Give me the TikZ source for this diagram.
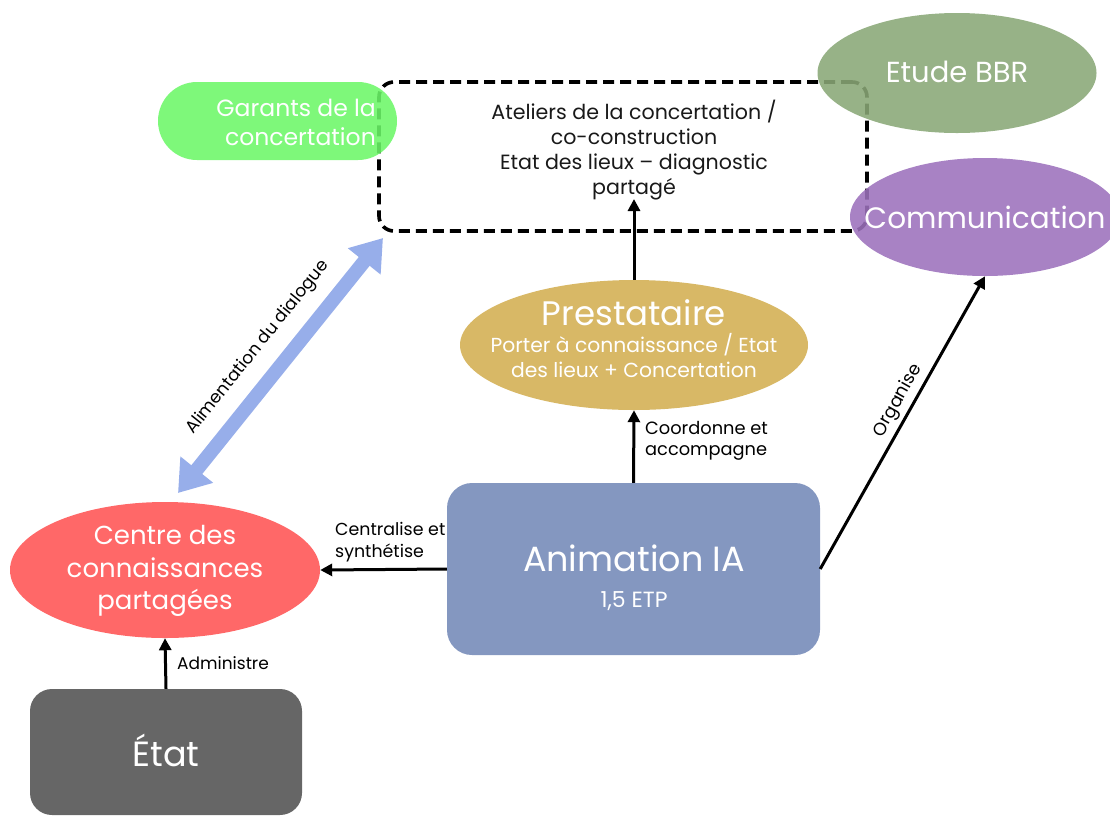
\documentclass[tikz,border=0pt]{standalone}
\usepackage{fontspec}
\setmainfont{Poppins}
\usetikzlibrary{arrows.meta,shapes.geometric}
\definecolor{cgar}{HTML}{6CF768}
\definecolor{cbbr}{HTML}{89A776}
\definecolor{ccom}{HTML}{9C71BC}
\definecolor{cpre}{HTML}{D8B866}
\definecolor{cani}{HTML}{8497C0}
\definecolor{ccen}{HTML}{FF6868}
\definecolor{ceta}{HTML}{666666}
\definecolor{cblu}{HTML}{97AEEA}
\newcommand\fsz[2]{\fontsize{#1}{#2}\selectfont}
\begin{document}
\begin{tikzpicture}[x=1pt,y=-1pt,
  wtxt/.style={text=white,inner sep=0pt,align=center},
  btxt/.style={text=black,inner sep=0pt,align=left},
  blk/.style={line width=3pt,-{Triangle[length=12pt,width=12pt]}},
  oval/.style={ellipse,inner sep=0pt,draw=none},
  rbox/.style={rectangle,inner sep=0pt,draw=none}]
\useasboundingbox (0,0) rectangle (1110,815);

% dashed box
\node[rbox,draw=black,line width=3.6pt,dash pattern=on 11pt off 6pt,rounded corners=15pt,
  minimum width=488pt,minimum height=149pt] (box) at (623,156.5) {};
\node[btxt,align=center,text=black!90,font=\fsz{20.6}{25}] (atel) at (634,150)
  {Ateliers de la concertation /\\co-construction\\Etat des lieux -- diagnostic\\partagé};
\coordinate (boxin) at (634,199);

% garants
\node[rbox,fill=cgar,fill opacity=0.88,rounded corners=39pt,minimum width=239pt,minimum height=78pt] (gar) at (277.5,121) {};
\node[wtxt,align=right,anchor=east,font=\fsz{23.5}{29}] (gart) at (376,122) {Garants de la\\concertation};

% Etude BBR
\node[oval,fill=cbbr,fill opacity=0.88,minimum width=279pt,minimum height=120pt] (bbr) at (957,73) {};
\node[wtxt,font=\fsz{29}{33}] (bbrt) at (957,72) {Etude BBR};

% Communication
\node[oval,fill=ccom,fill opacity=0.88,minimum width=270pt,minimum height=118pt] (comm) at (985,217) {};
\node[wtxt,font=\fsz{29.5}{34}] (commt) at (985,217) {Communication};

% Prestataire
\node[oval,fill=cpre,minimum width=348pt,minimum height=130pt] (prest) at (634,345) {};
\node[wtxt,font=\fsz{34}{40}] (prestt) at (634,313) {Prestataire};
\node[wtxt,font=\fsz{20.3}{25}] (prests) at (634,356) {Porter à connaissance / Etat\\des lieux + Concertation};

% Animation IA
\node[rbox,fill=cani,rounded corners=25pt,minimum width=373pt,minimum height=172pt] (anim) at (633.5,569) {};
\node[wtxt,font=\fsz{35}{40}] (animt) at (634,558) {Animation IA};
\node[wtxt,font=\fsz{22}{26}] (anims) at (634,601) {1,5 ETP};

% Centre
\node[oval,fill=ccen,minimum width=310pt,minimum height=136pt] (centre) at (165,570) {};
\node[wtxt,font=\fsz{26}{32.5}] (centret) at (165,571) {Centre des\\connaissances\\partagées};

% Etat
\node[rbox,fill=ceta,rounded corners=22pt,minimum width=272pt,minimum height=126pt] (etat) at (166,752) {};
\node[wtxt,font=\fsz{35}{40}] (etatt) at (166,750) {État};

% connectors
\draw[blk] (prest.north) -- (boxin);
\draw[blk] (anim.north) -- (prest.south);
\node[btxt,anchor=west,font=\fsz{17.8}{21}] (lcoord) at (645,441) {Coordonne et\\accompagne};
\draw[blk] (anim.west) -- (centre.east);
\node[btxt,anchor=west,font=\fsz{17.4}{22}] (lcent) at (335,542) {Centralise et\\synthétise};
\draw[blk] (etat.north) -- (centre.south);
\node[btxt,anchor=west,font=\fsz{17}{20}] (ladm) at (177,663) {Administre};
\draw[blk] (anim.east) -- (comm.south)
  node[pos=0.55,sloped,above=4pt,inner sep=0pt,font=\fsz{17.8}{20},text=black] (lorg) {Organise};

\coordinate (b1) at (178,493);
\coordinate (b2) at (383,238);
\draw[cblu,line width=14pt,{Triangle[length=30pt,width=40pt]}-{Triangle[length=30pt,width=40pt]}] (b1) -- (b2)
  node[pos=0.5,sloped,above=13pt,inner sep=0pt,font=\fsz{17.2}{20},text=black] (lali) {Alimentation du dialogue};
\end{tikzpicture}
\end{document}
